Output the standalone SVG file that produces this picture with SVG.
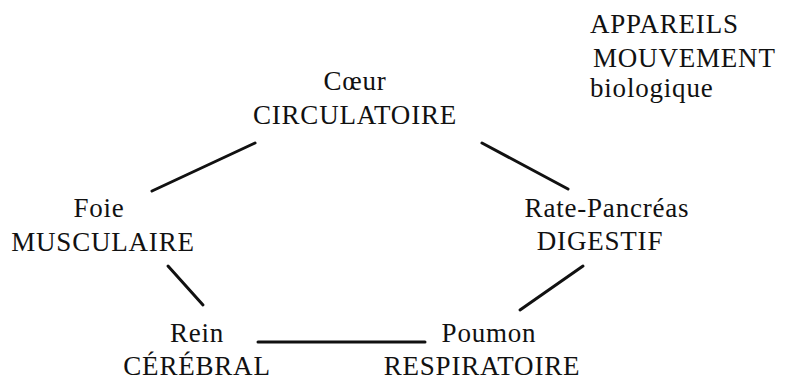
<svg xmlns="http://www.w3.org/2000/svg" width="786" height="383" viewBox="0 0 786 383">
<style>
text{font-family:"Liberation Serif","Times New Roman",serif;font-size:27px;letter-spacing:0.8px;fill:#111;text-anchor:middle}
.l{text-anchor:start}
.c line{stroke:#111;stroke-width:3;stroke-linecap:round}
</style>
<rect width="786" height="383" fill="#fff"/>
<g id="legend">
<text class="l" x="590" y="33">APPAREILS</text>
<text class="l" x="593" y="67">MOUVEMENT</text>
<text class="l" x="590" y="97">biologique</text>
</g>
<g class="c" id="connectors">
<line x1="255" y1="143" x2="152" y2="191"/>
<line x1="482" y1="143" x2="568" y2="189"/>
<line x1="168" y1="266" x2="203" y2="305"/>
<line x1="583" y1="266" x2="520" y2="310"/>
<line x1="258" y1="342" x2="425" y2="342"/>
</g>
<g id="coeur">
<text x="355" y="90">Cœur</text>
<text x="355" y="124">CIRCULATOIRE</text>
</g>
<g id="foie">
<text x="99" y="217">Foie</text>
<text x="103" y="251">MUSCULAIRE</text>
</g>
<g id="rate">
<text x="607" y="217">Rate-Pancréas</text>
<text x="600" y="250">DIGESTIF</text>
</g>
<g id="rein">
<text x="197" y="342">Rein</text>
<text x="197" y="375">CÉRÉBRAL</text>
</g>
<g id="poumon">
<text x="489" y="342">Poumon</text>
<text x="482" y="375">RESPIRATOIRE</text>
</g>
</svg>
